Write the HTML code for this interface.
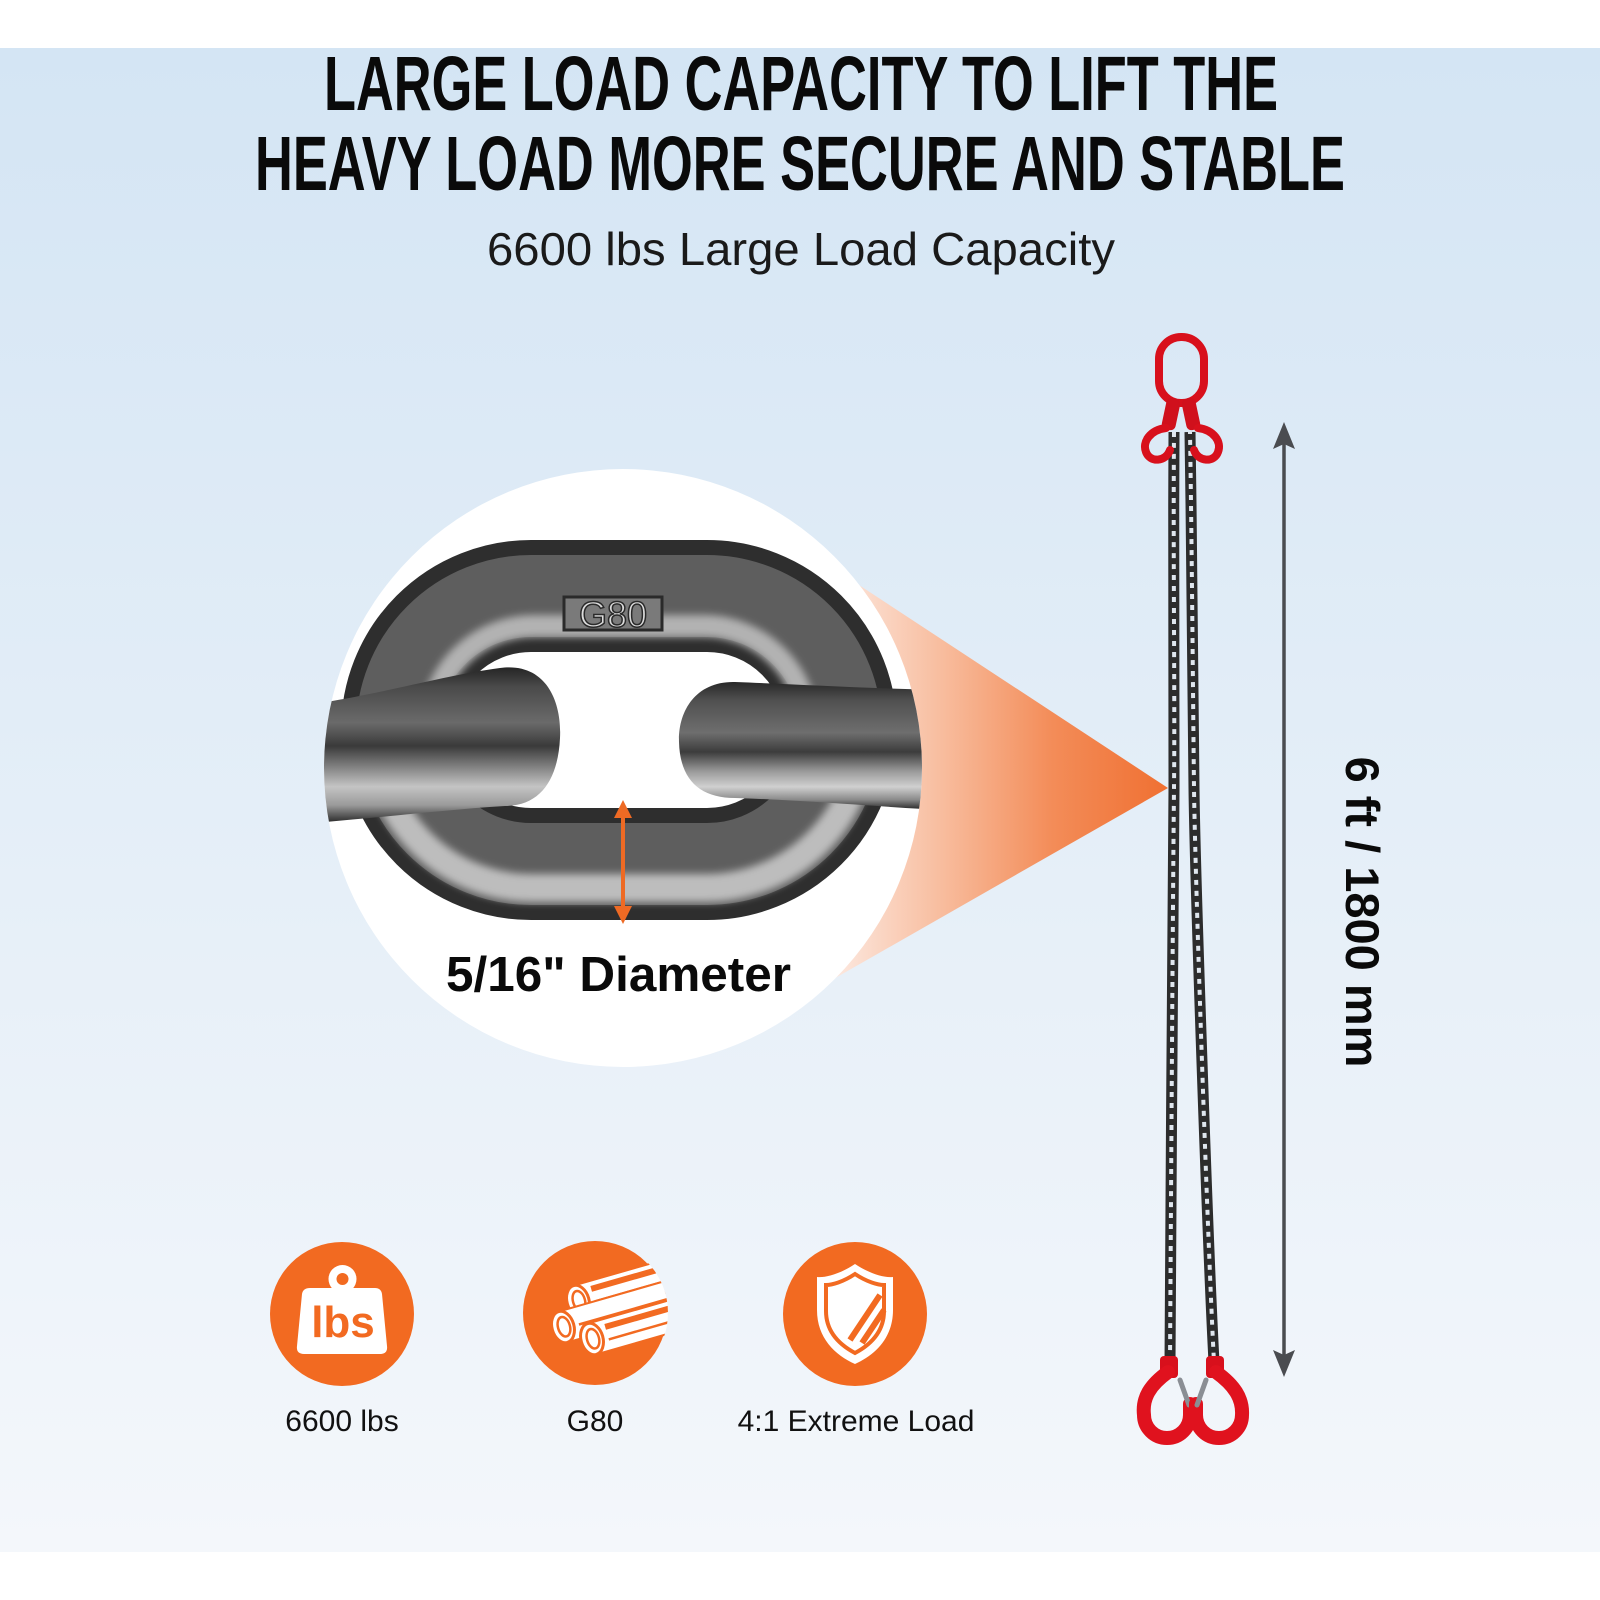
<!DOCTYPE html>
<html><head><meta charset="utf-8"><style>
html,body{margin:0;padding:0;background:#fff;}
svg{display:block;}
</style></head><body>
<svg width="1600" height="1600" viewBox="0 0 1600 1600" xmlns="http://www.w3.org/2000/svg">
<defs>
 <linearGradient id="bg" x1="0" y1="48" x2="0" y2="1552" gradientUnits="userSpaceOnUse">
  <stop offset="0" stop-color="#d4e5f4"/>
  <stop offset="1" stop-color="#f4f7fb"/>
 </linearGradient>
 <linearGradient id="cone" x1="840" y1="0" x2="1168" y2="0" gradientUnits="userSpaceOnUse">
  <stop offset="0" stop-color="#fce6dc"/>
  <stop offset="0.3" stop-color="#f8bea0"/>
  <stop offset="0.65" stop-color="#f38c58"/>
  <stop offset="1" stop-color="#f07032"/>
 </linearGradient>
 <clipPath id="circ"><circle cx="623" cy="768" r="299"/></clipPath>
 <clipPath id="topHalf"><rect x="300" y="500" width="650" height="228"/></clipPath>
 <clipPath id="botHalf"><rect x="300" y="728" width="650" height="240"/></clipPath>
 <linearGradient id="barL" x1="0" y1="668" x2="0" y2="824" gradientUnits="userSpaceOnUse">
  <stop offset="0" stop-color="#262626"/>
  <stop offset="0.12" stop-color="#4a4a4a"/>
  <stop offset="0.35" stop-color="#6a6a6a"/>
  <stop offset="0.5" stop-color="#3a3a3a"/>
  <stop offset="0.62" stop-color="#7a7a7a"/>
  <stop offset="0.76" stop-color="#c4c4c4"/>
  <stop offset="0.88" stop-color="#9a9a9a"/>
  <stop offset="1" stop-color="#202020"/>
 </linearGradient>
 <linearGradient id="barR" x1="0" y1="681" x2="0" y2="810" gradientUnits="userSpaceOnUse">
  <stop offset="0" stop-color="#262626"/>
  <stop offset="0.15" stop-color="#505050"/>
  <stop offset="0.4" stop-color="#6e6e6e"/>
  <stop offset="0.55" stop-color="#3c3c3c"/>
  <stop offset="0.7" stop-color="#9a9a9a"/>
  <stop offset="0.82" stop-color="#d0d0d0"/>
  <stop offset="0.92" stop-color="#8a8a8a"/>
  <stop offset="1" stop-color="#222"/>
 </linearGradient>
 <filter id="blur4" x="-10%" y="-10%" width="120%" height="120%"><feGaussianBlur stdDeviation="4"/></filter>
 <clipPath id="ic2"><circle cx="595" cy="1313" r="73"/></clipPath>
</defs>

<rect width="1600" height="1600" fill="#fff"/>
<rect x="0" y="48" width="1600" height="1504" fill="url(#bg)"/>

<text x="324" y="110" font-family="'Liberation Sans', sans-serif" font-weight="bold" font-size="77" fill="#0a0a0a" textLength="954" lengthAdjust="spacingAndGlyphs">LARGE LOAD CAPACITY TO LIFT THE</text>
<text x="255" y="190" font-family="'Liberation Sans', sans-serif" font-weight="bold" font-size="77" fill="#0a0a0a" textLength="1090" lengthAdjust="spacingAndGlyphs">HEAVY LOAD MORE SECURE AND STABLE</text>
<text x="487" y="265" font-family="'Liberation Sans', sans-serif" font-size="46" fill="#1a1a1a" textLength="628" lengthAdjust="spacingAndGlyphs">6600 lbs Large Load Capacity</text>

<polygon points="1168,788 760,520 760,1021" fill="url(#cone)"/>

<circle cx="623" cy="768" r="299" fill="#ffffff"/>

<g clip-path="url(#circ)">
 <rect x="397" y="596" width="444" height="268" rx="134" fill="none" stroke="#2e2e2e" stroke-width="112"/>
 <rect x="397" y="596" width="444" height="268" rx="134" fill="none" stroke="#5e5e5e" stroke-width="82"/>
 <g clip-path="url(#topHalf)">
  <rect x="430" y="626" width="378" height="208" rx="104" fill="none" stroke="#b2b2b2" stroke-width="22" filter="url(#blur4)"/>
 </g>
 <g clip-path="url(#botHalf)">
  <rect x="374" y="572" width="490" height="316" rx="158" fill="none" stroke="#bdbdbd" stroke-width="28" filter="url(#blur4)"/>
 </g>
 <rect x="564" y="597" width="98" height="33" fill="#7a7a7a" stroke="#2a2a2a" stroke-width="3"/>
 <text x="613" y="627" text-anchor="middle" font-family="'Liberation Sans', sans-serif" font-size="36" fill="#dcdcdc" stroke="#2a2a2a" stroke-width="1.5">G80</text>
 <path d="M300,706 C380,695 440,676 500,668 C545,662 562,700 560,738 C558,780 540,806 505,806 C440,810 380,818 300,824 Z" fill="url(#barL)"/>
 <path d="M940,690 C860,688 790,684 735,682 C695,681 678,712 679,742 C680,780 700,798 735,798 C800,800 870,806 940,810 Z" fill="url(#barR)"/>
</g>

<line x1="623" y1="812" x2="623" y2="912" stroke="#ee6a24" stroke-width="4"/>
<polygon points="623,800 614,818 632,818" fill="#ee6a24"/>
<polygon points="623,924 614,906 632,906" fill="#ee6a24"/>

<text x="446" y="991" font-family="'Liberation Sans', sans-serif" font-weight="bold" font-size="49" fill="#0a0a0a" textLength="345" lengthAdjust="spacingAndGlyphs">5/16" Diameter</text>

<path d="M1174,432 C1173,560 1175,700 1174,788 S1171,1200 1170,1362" fill="none" stroke="#2c2c2c" stroke-width="11"/>
<path d="M1174,432 C1173,560 1175,700 1174,788 S1171,1200 1170,1362" fill="none" stroke="#dfe6ee" stroke-width="4" stroke-dasharray="5 6"/>
<path d="M1190,432 C1192,560 1193,700 1194,788 S1208,1250 1214,1362" fill="none" stroke="#2c2c2c" stroke-width="11"/>
<path d="M1190,432 C1192,560 1193,700 1194,788 S1208,1250 1214,1362" fill="none" stroke="#dfe6ee" stroke-width="4" stroke-dasharray="5 6" stroke-dashoffset="3"/>

<rect x="1159" y="337" width="45" height="66" rx="22" fill="none" stroke="#d8101c" stroke-width="8"/>
<rect x="1164" y="398" width="14" height="32" rx="5" fill="#d0101c" transform="rotate(12 1171 414)"/>
<rect x="1184" y="398" width="14" height="32" rx="5" fill="#d0101c" transform="rotate(-12 1191 414)"/>
<path d="M1166,428 C1150,430 1142,442 1146,452 C1150,463 1166,462 1170,450" fill="none" stroke="#d8101c" stroke-width="8" stroke-linecap="round"/>
<path d="M1198,428 C1214,430 1222,442 1218,452 C1214,463 1198,462 1194,450" fill="none" stroke="#d8101c" stroke-width="8" stroke-linecap="round"/>

<rect x="1160" y="1356" width="18" height="22" rx="4" fill="#d8101c"/>
<path d="M1168,1372 C1150,1385 1142,1398 1144,1415 A23 23 0 0 0 1190,1415 L1190,1404" fill="none" stroke="#e0121e" stroke-width="14" stroke-linecap="round"/>
<line x1="1180" y1="1380" x2="1189" y2="1405" stroke="#8a8e94" stroke-width="5" stroke-linecap="round"/>
<rect x="1206" y="1356" width="18" height="22" rx="4" fill="#d8101c"/>
<path d="M1216,1372 C1234,1385 1243,1398 1242,1415 A23 23 0 0 1 1196,1415 L1196,1404" fill="none" stroke="#e0121e" stroke-width="14" stroke-linecap="round"/>
<line x1="1206" y1="1380" x2="1197" y2="1405" stroke="#8a8e94" stroke-width="5" stroke-linecap="round"/>

<line x1="1284" y1="440" x2="1284" y2="1360" stroke="#4a4c50" stroke-width="3.5"/>
<polygon points="1284,422 1273,449 1284,444 1295,449" fill="#4a4c50"/>
<polygon points="1284,1377 1273,1350 1284,1355 1295,1350" fill="#4a4c50"/>
<text transform="translate(1346,912) rotate(90)" text-anchor="middle" font-family="'Liberation Sans', sans-serif" font-weight="bold" font-size="47" fill="#0a0a0a">6 ft / 1800 mm</text>

<circle cx="342" cy="1314" r="72" fill="#f26a21"/>
<circle cx="342.5" cy="1279" r="14" fill="#fff"/>
<circle cx="342.5" cy="1279" r="6" fill="#f26a21"/>
<path d="M310,1288 L375,1288 Q381,1288 382,1294 L387,1346 Q388,1354 380,1354 L304,1354 Q296,1354 297,1346 L302,1294 Q303,1288 310,1288 Z" fill="#fff"/>
<text x="343" y="1337" text-anchor="middle" font-family="'Liberation Sans', sans-serif" font-weight="bold" font-size="44" fill="#f26a21">lbs</text>

<circle cx="595" cy="1313" r="72" fill="#f26a21"/>
<g clip-path="url(#ic2)">
 <g transform="translate(578,1301) rotate(-16)">
  <rect x="0" y="-16" width="160" height="32" fill="#fff" stroke="#f26a21" stroke-width="2"/>
  <rect x="16" y="-11" width="150" height="6" fill="#f26a21"/>
  <line x1="16" y1="5" x2="160" y2="5" stroke="#f26a21" stroke-width="2.5"/>
  <ellipse cx="0" cy="0" rx="11" ry="16" fill="#fff" stroke="#f26a21" stroke-width="3"/>
  <ellipse cx="1" cy="0" rx="6" ry="10" fill="#fff" stroke="#f26a21" stroke-width="2.5"/>
 </g>
 <g transform="translate(563,1327) rotate(-16)">
  <rect x="0" y="-16" width="170" height="32" fill="#fff" stroke="#f26a21" stroke-width="2"/>
  <line x1="16" y1="2" x2="170" y2="2" stroke="#f26a21" stroke-width="2.5"/>
  <ellipse cx="0" cy="0" rx="11" ry="16" fill="#fff" stroke="#f26a21" stroke-width="3"/>
  <ellipse cx="1" cy="0" rx="6" ry="10" fill="#fff" stroke="#f26a21" stroke-width="2.5"/>
 </g>
 <g transform="translate(592,1339) rotate(-16)">
  <rect x="0" y="-16" width="160" height="32" fill="#fff" stroke="#f26a21" stroke-width="2"/>
  <rect x="16" y="-11" width="150" height="6" fill="#f26a21"/>
  <line x1="16" y1="5" x2="160" y2="5" stroke="#f26a21" stroke-width="2.5"/>
  <ellipse cx="0" cy="0" rx="11" ry="16" fill="#fff" stroke="#f26a21" stroke-width="3"/>
  <ellipse cx="1" cy="0" rx="6" ry="10" fill="#fff" stroke="#f26a21" stroke-width="2.5"/>
 </g>
</g>

<circle cx="855" cy="1314" r="72" fill="#f26a21"/>
<path d="M855,1264 C870,1274 885,1278 893,1277 L893,1310 C893,1338 875,1355 855,1364 C835,1355 817,1338 817,1310 L817,1277 C825,1278 840,1274 855,1264 Z" fill="#fff"/>
<path d="M855,1274 C867,1282 878,1285 884,1285 L884,1311 C884,1332 870,1345 855,1353 C840,1345 826,1332 826,1311 L826,1285 C832,1285 843,1282 855,1274 Z" fill="none" stroke="#f26a21" stroke-width="4"/>
<line x1="850" y1="1340" x2="880" y2="1295" stroke="#f26a21" stroke-width="6"/>
<line x1="862" y1="1343" x2="884" y2="1310" stroke="#f26a21" stroke-width="6"/>

<text x="342" y="1431" text-anchor="middle" font-family="'Liberation Sans', sans-serif" font-size="30" fill="#111">6600 lbs</text>
<text x="595" y="1431" text-anchor="middle" font-family="'Liberation Sans', sans-serif" font-size="30" fill="#111">G80</text>
<text x="856" y="1431" text-anchor="middle" font-family="'Liberation Sans', sans-serif" font-size="30" fill="#111">4:1 Extreme Load</text>
</svg>
</body></html>
